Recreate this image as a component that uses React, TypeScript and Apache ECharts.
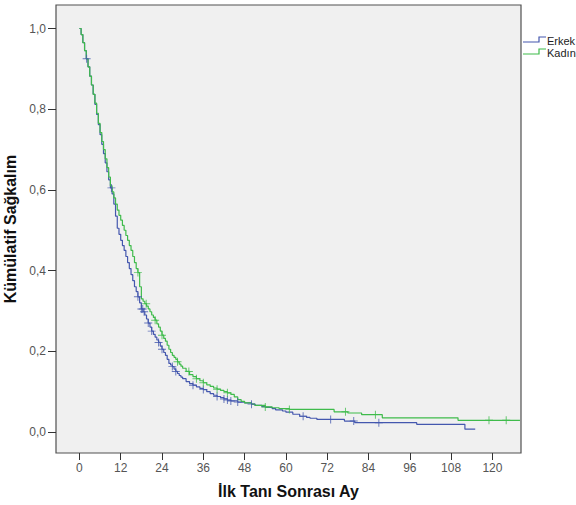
import React, { useEffect, useRef } from "react";
import * as echarts from "echarts";

// Kaplan-Meier estimates (months, cumulative survival)
const erkekTime = [0, 0.5, 1, 1.5, 2, 2.5, 3, 3.5, 4, 4.5, 5, 5.5, 6, 6.5, 7, 7.5, 8, 8.5, 9, 9.5, 10, 10.5, 11, 11.5, 12, 12.5, 13, 13.5, 14, 14.5, 15, 15.5, 16, 16.5, 17, 17.5, 18, 18.5, 19, 19.5, 20, 20.5, 21, 21.5, 22, 22.5, 23, 23.5, 24, 24.5, 25, 25.5, 26, 26.5, 27, 27.5, 28, 28.5, 29, 29.5, 30, 31, 32, 33, 34, 35, 36, 37, 38, 39, 40, 41, 42, 43, 44, 46, 48, 50, 51, 53, 54, 56, 57, 59, 60, 62, 64, 66, 67, 69, 77, 80, 98, 112, 115];
const erkekSurv = [1.0, 0.985, 0.965, 0.945, 0.925, 0.905, 0.882, 0.86, 0.837, 0.812, 0.787, 0.762, 0.737, 0.713, 0.69, 0.667, 0.645, 0.625, 0.605, 0.59, 0.565, 0.535, 0.505, 0.49, 0.475, 0.462, 0.45, 0.435, 0.42, 0.405, 0.39, 0.375, 0.36, 0.348, 0.335, 0.32, 0.305, 0.298, 0.29, 0.28, 0.27, 0.26, 0.25, 0.242, 0.235, 0.228, 0.222, 0.213, 0.205, 0.197, 0.19, 0.18, 0.17, 0.166, 0.162, 0.156, 0.15, 0.145, 0.14, 0.136, 0.132, 0.125, 0.12, 0.116, 0.112, 0.108, 0.105, 0.1, 0.095, 0.091, 0.088, 0.085, 0.082, 0.079, 0.077, 0.074, 0.072, 0.069, 0.066, 0.063, 0.061, 0.058, 0.055, 0.052, 0.049, 0.044, 0.039, 0.036, 0.034, 0.031, 0.027, 0.023, 0.019, 0.007, 0.007];
const kadinTime = [0, 0.5, 1, 1.5, 2, 2.5, 3, 3.5, 4, 4.5, 5, 5.5, 6, 6.5, 7, 7.5, 8, 8.5, 9, 9.5, 10, 10.5, 11, 11.5, 12, 12.5, 13, 13.5, 14, 14.5, 15, 15.5, 16, 16.5, 17, 17.5, 18, 18.5, 19, 19.5, 20, 20.5, 21, 21.5, 22, 22.5, 23, 23.5, 24, 24.5, 25, 25.5, 26, 26.5, 27, 27.5, 28, 28.5, 29, 29.5, 30, 31, 32, 33, 34, 35, 36, 37, 38, 39, 40, 41, 42, 43, 44, 45, 46, 47, 48, 50, 51, 54, 56, 58, 61, 74, 78, 82, 88, 110, 128];
const kadinSurv = [1.0, 0.985, 0.965, 0.945, 0.925, 0.905, 0.882, 0.86, 0.837, 0.815, 0.79, 0.765, 0.742, 0.72, 0.7, 0.677, 0.655, 0.632, 0.61, 0.595, 0.58, 0.565, 0.55, 0.537, 0.525, 0.512, 0.5, 0.487, 0.475, 0.462, 0.45, 0.435, 0.42, 0.405, 0.395, 0.36, 0.33, 0.324, 0.318, 0.312, 0.305, 0.298, 0.29, 0.284, 0.277, 0.268, 0.26, 0.25, 0.24, 0.232, 0.225, 0.215, 0.205, 0.197, 0.19, 0.185, 0.18, 0.174, 0.168, 0.163, 0.158, 0.15, 0.142, 0.137, 0.132, 0.127, 0.122, 0.117, 0.113, 0.109, 0.106, 0.103, 0.1, 0.097, 0.093, 0.087, 0.08, 0.076, 0.072, 0.069, 0.066, 0.062, 0.06, 0.058, 0.056, 0.05, 0.047, 0.043, 0.035, 0.029, 0.029];
// censored observations (months)
const erkekCensor = [2.1, 9.3, 17, 18, 18.4, 18.8, 20, 21, 23, 24, 27, 28, 33, 36, 40, 42, 43, 44, 46, 50, 65, 73, 79.7, 87];
const kadinCensor = [17, 19.4, 22, 24, 28.5, 31.8, 34, 36, 40, 43, 54, 61, 77.3, 86, 119, 124];

const xTicks = [0, 12, 24, 36, 48, 60, 72, 84, 96, 108, 120];
const yTicks = [0, 0.2, 0.4, 0.6, 0.8, 1.0];
const seriesNames = ["Erkek", "Kadın"];

const BLUE = "#4457ae";
const GREEN = "#3fbb4b";
const PLUS = "path://M4.4,0 H5.6 V4.4 H10 V5.6 H5.6 V10 H4.4 V5.6 H0 V4.4 H4.4 Z";

function survAt(times: number[], surv: number[], t: number) {
  let v = surv[0];
  for (let i = 0; i < times.length; i++) {
    if (times[i] <= t) v = surv[i];
  }
  return v;
}

export default function App() {
  const ref = useRef<HTMLDivElement>(null);
  useEffect(() => {
    if (!ref.current) return;
    const chart = echarts.init(ref.current, null, { renderer: "svg" });
    const font = "'Liberation Sans', Arial, sans-serif";
    const line = (name: string, times: number[], surv: number[], color: string) => ({
      name,
      type: "line",
      step: "end",
      showSymbol: false,
      symbol: "none",
      data: times.map((t, i) => [t, surv[i]]),
      lineStyle: { color, width: 1.2 },
      itemStyle: { color },
      z: 3,
    });
    const cens = (name: string, c: number[], times: number[], surv: number[], color: string) => ({
      name,
      type: "scatter",
      symbol: PLUS,
      symbolSize: 8,
      data: c.map((t) => [t, survAt(times, surv, t)]),
      itemStyle: { color },
      z: 4,
    });
    chart.setOption({
      animation: false,
      backgroundColor: "#ffffff",
      textStyle: { fontFamily: font },
      grid: {
        left: 56,
        right: 55,
        top: 5,
        bottom: 52,
        containLabel: false,
        outerBoundsMode: "none",
        show: true,
        backgroundColor: "#f0f0f0",
        borderColor: "#505050",
        borderWidth: 1.2,
      },
      xAxis: {
        type: "value",
        min: -6.8,
        max: 128.3,
        name: "İlk Tanı Sonrası Ay",
        nameLocation: "middle",
        nameGap: 30,
        nameTextStyle: { fontSize: 16, fontWeight: "bold", color: "#111", fontFamily: font },
        axisLine: { show: false, onZero: false },
        splitLine: { show: false },
        axisTick: { show: true, length: 7, inside: false, customValues: xTicks, lineStyle: { color: "#333" } },
        axisLabel: {
          customValues: xTicks,
          color: "#555",
          fontSize: 12,
          margin: 9,
          fontFamily: font,
        },
      },
      yAxis: {
        type: "value",
        min: -0.0521,
        max: 1.0583,
        name: "Kümülatif Sağkalım",
        nameLocation: "middle",
        nameGap: 34,
        nameRotate: 90,
        nameTextStyle: { fontSize: 16, fontWeight: "bold", color: "#111", fontFamily: font },
        axisLine: { show: false, onZero: false },
        splitLine: { show: false },
        axisTick: { show: true, length: 8, inside: false, customValues: yTicks, lineStyle: { color: "#333" } },
        axisLabel: {
          customValues: yTicks,
          color: "#555",
          fontSize: 12,
          margin: 10,
          fontFamily: font,
          formatter: (v: number) => v.toFixed(1).replace(".", ","),
        },
      },
      series: [
        line(seriesNames[0], erkekTime, erkekSurv, BLUE),
        line(seriesNames[1], kadinTime, kadinSurv, GREEN),
        cens(seriesNames[0], erkekCensor, erkekTime, erkekSurv, BLUE),
        cens(seriesNames[1], kadinCensor, kadinTime, kadinSurv, GREEN),
      ],
      graphic: [
        {
          type: "polyline",
          shape: { points: [[523, 42], [539, 42], [539, 37], [546, 37]] },
          style: { stroke: BLUE, lineWidth: 1.2, fill: null },
        },
        {
          type: "text",
          x: 547,
          y: 41,
          style: { text: seriesNames[0], fontSize: 11, fill: "#222", fontFamily: font, verticalAlign: "middle" },
        },
        {
          type: "polyline",
          shape: { points: [[523, 54], [539, 54], [539, 49], [546, 49]] },
          style: { stroke: GREEN, lineWidth: 1.2, fill: null },
        },
        {
          type: "text",
          x: 547,
          y: 53,
          style: { text: seriesNames[1], fontSize: 11, fill: "#222", fontFamily: font, verticalAlign: "middle" },
        },
      ],
    });
    return () => chart.dispose();
  }, []);
  return (
    <div
      ref={ref}
      style={{ position: "fixed", left: 0, top: 0, width: 576, height: 505, overflow: "hidden" }}
    />
  );
}
